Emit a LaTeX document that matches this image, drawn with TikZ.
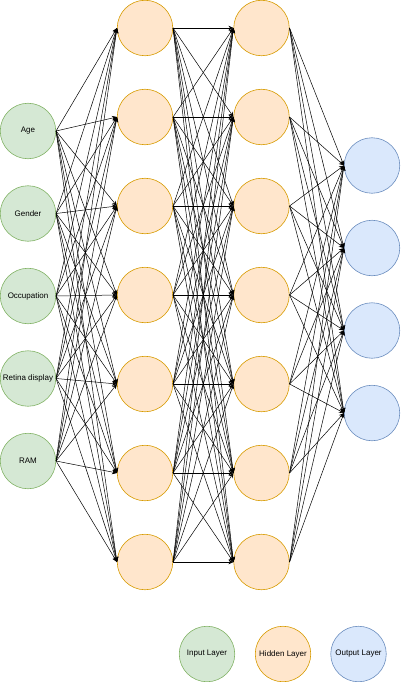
\documentclass[tikz,border=0pt]{standalone}
\usepackage{fontspec}
\setmainfont{Liberation Sans}
\usetikzlibrary{arrows.meta}
\definecolor{ingreen}{HTML}{D5E8D4}
\definecolor{ingreenD}{HTML}{82B366}
\definecolor{hidor}{HTML}{FFE6CC}
\definecolor{hidorD}{HTML}{D79B00}
\definecolor{outbl}{HTML}{DAE8FC}
\definecolor{outblD}{HTML}{6C8EBF}
\tikzset{
  neuron/.style={circle, minimum size=55.5pt, inner sep=0pt, line width=0.6pt, font=\fontsize{8}{9}\selectfont},
  inneuron/.style={neuron, fill=ingreen, draw=ingreenD},
  hidneuron/.style={neuron, fill=hidor, draw=hidorD},
  outneuron/.style={neuron, fill=outbl, draw=outblD},
  conn/.style={draw=black, line width=0.5pt, -{Stealth[length=5pt,width=4.5pt]}},
}
\begin{document}
\begin{tikzpicture}[x=1pt,y=-1pt]
\useasboundingbox (0,0) rectangle (400,682);
% input
\node[inneuron] (i1) at (28,131) {Age};
\node[inneuron] (i2) at (28,213.5) {Gender};
\node[inneuron] (i3) at (28,296) {Occupation};
\node[inneuron] (i4) at (28,378.5) {Retina display};
\node[inneuron] (i5) at (28,461) {RAM};
% hidden 1 and 2
\foreach \k in {1,...,7}{
  \node[hidneuron] (a\k) at (145,{28+89*(\k-1)}) {};
  \node[hidneuron] (b\k) at (261.5,{28+89*(\k-1)}) {};
}
% output
\node[outneuron] (o1) at (372,165.5) {};
\node[outneuron] (o2) at (372,248) {};
\node[outneuron] (o3) at (372,330.5) {};
\node[outneuron] (o4) at (372,413) {};
% legend
\node[inneuron] (l1) at (207,654) {Input Layer};
\node[hidneuron] (l2) at (283,654) {Hidden Layer};
\node[outneuron] (l3) at (358.5,654) {Output Layer};
% connections
\foreach \s in {1,...,5}{
  \foreach \t in {1,...,7}{
    \path[conn] (i\s.east) -- (a\t.west);
  }
}
\foreach \s in {1,...,7}{
  \foreach \t in {1,...,7}{
    \path[conn] (a\s.east) -- (b\t.west);
  }
}
\foreach \s in {1,...,7}{
  \foreach \t in {1,...,4}{
    \path[conn] (b\s.east) -- (o\t.west);
  }
}
\end{tikzpicture}
\end{document}
